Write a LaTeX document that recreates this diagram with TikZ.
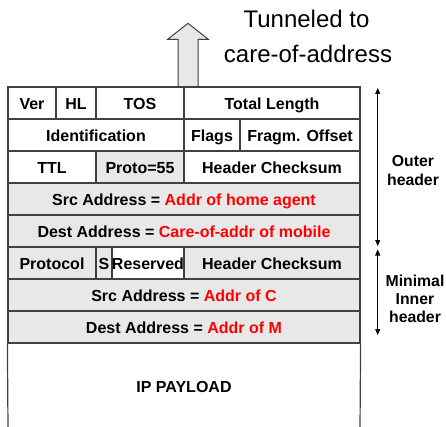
\documentclass[tikz,border=0pt]{standalone}
\usepackage{fontspec}
\setmainfont{Liberation Sans}
\usetikzlibrary{arrows.meta}
\definecolor{cellgray}{HTML}{E8E8E8}
\definecolor{linegray}{HTML}{404040}
\definecolor{addrred}{HTML}{FF0000}
\begin{document}
\begin{tikzpicture}[x=1pt,y=-1pt,
  cell/.style={draw=linegray, line width=1.2pt, inner sep=0pt, minimum height=32pt,
    text height=13.5pt, text depth=0pt,
    font=\fontsize{16}{18}\selectfont\bfseries, text=black},
  gcell/.style={cell, fill=cellgray},
  lbl/.style={align=center, font=\fontsize{15.8}{18.2}\selectfont\bfseries},
  head/.style={anchor=base, font=\fontsize{24}{28}\selectfont},
  span/.style={{Triangle[length=6pt,width=5pt]}-{Triangle[length=6pt,width=5pt]}, line width=0.8pt, black}
]
\useasboundingbox (0,0) rectangle (446,427);
% heading
\node[head] (t1) at (306.5,28) {Tunneled to};
\node[head] (t2) at (308,63) {care-of-address};
% block arrow
\draw[fill=cellgray, draw=linegray, line width=1pt]
  (178,87) -- (178,39.3) -- (167.7,39.3) -- (188,23.3) -- (208.3,39.3) -- (198,39.3) -- (198,87) -- cycle;
% row 1
\node[cell, minimum width=48pt] (ver) at (32,103) {Ver};
\node[cell, minimum width=40pt] (hl) at (76,103) {HL};
\node[cell, minimum width=88pt] (tos) at (140,103) {TOS};
\node[cell, minimum width=176pt] (tlen) at (272,103) {Total Length};
% row 2
\node[cell, minimum width=176pt] (ident) at (96,135) {Identification};
\node[cell, minimum width=56pt] (flags) at (212,135) {Flags};
\node[cell, minimum width=120pt] (frag) at (300,135) {Fragm. Offset};
% row 3
\node[cell, minimum width=88pt] (ttl) at (52,167) {TTL};
\node[gcell, minimum width=88pt] (proto) at (140,167) {Proto=55};
\node[cell, minimum width=176pt] (hcs) at (272,167) {Header Checksum};
% rows 4,5
\node[gcell, minimum width=352pt] (src1) at (184,199) {Src Address = \textcolor{addrred}{Addr of home agent}};
\node[gcell, minimum width=352pt] (dst1) at (184,231) {Dest Address = \textcolor{addrred}{Care-of-addr of mobile}};
% row 6
\node[gcell, minimum width=88pt] (iproto) at (52,263) {Protocol};
\node[gcell, minimum width=16pt] (sflag) at (104,263) {S};
\node[cell, minimum width=72pt] (resv) at (148,263) {Reserved};
\node[gcell, minimum width=176pt] (ihcs) at (272,263) {Header Checksum};
% rows 7,8
\node[gcell, minimum width=352pt] (src2) at (184,295) {Src Address = \textcolor{addrred}{Addr of C}};
\node[gcell, minimum width=352pt] (dst2) at (184,327) {Dest Address = \textcolor{addrred}{Addr of M}};
% payload
\node[inner sep=0pt, text height=13.5pt, text depth=0pt, font=\fontsize{16}{18}\selectfont\bfseries] (pay) at (184,386) {IP PAYLOAD};
\draw[draw=linegray, line width=1.2pt] (dst2.south west) -- (8,428);
\draw[draw=linegray, line width=1.2pt] (dst2.south east) -- (360,428);
% side spans
\coordinate (o1) at (377.7,88);
\coordinate (o2) at (377.7,246);
\coordinate (i1) at (377.7,249.5);
\coordinate (i2) at (377.7,335);
\draw[span] (o1) -- (o2);
\draw[span] (i1) -- (i2);
\node[lbl] (outer) at (413,170.5) {Outer\\header};
\node[lbl] (inner) at (415,299) {Minimal\\Inner\\header};
\end{tikzpicture}
\end{document}
